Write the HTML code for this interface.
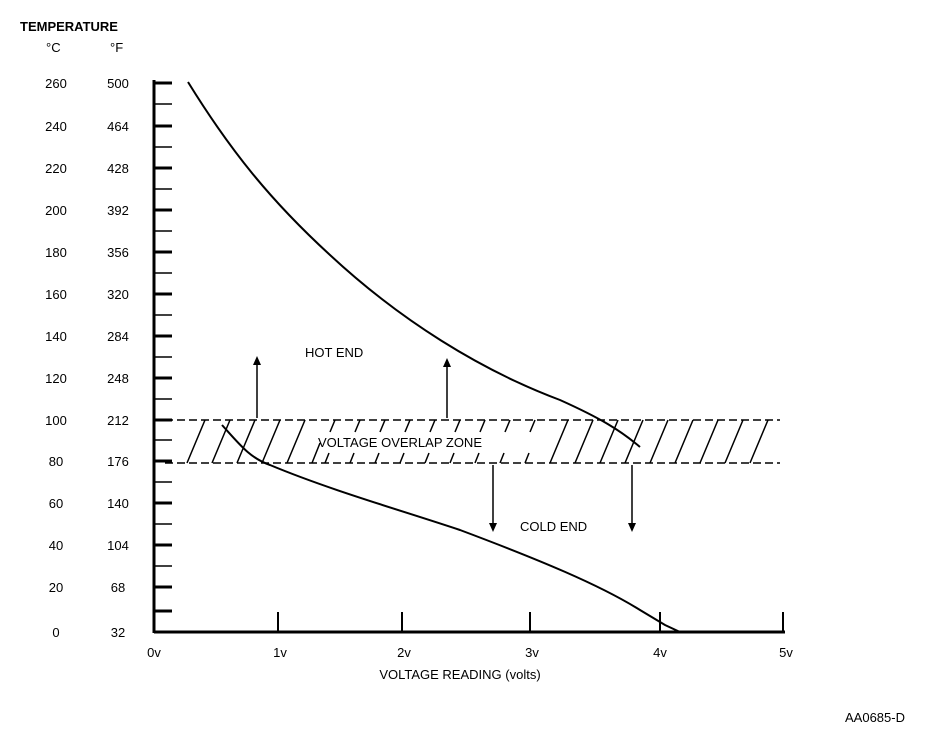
<!DOCTYPE html>
<html><head><style>
body{margin:0;background:#fff;}
svg text{font-family:"Liberation Sans",sans-serif;font-size:13px;fill:#000;}
</style></head><body>
<svg width="944" height="740" viewBox="0 0 944 740" xmlns="http://www.w3.org/2000/svg">
<text x="20" y="31" font-weight="bold" font-size="13">TEMPERATURE</text>
<text x="46" y="52">°C</text><text x="110" y="52">°F</text>
<g text-anchor="middle">
<text x="56" y="88">260</text><text x="118" y="88">500</text>
<text x="56" y="131">240</text><text x="118" y="131">464</text>
<text x="56" y="173">220</text><text x="118" y="173">428</text>
<text x="56" y="215">200</text><text x="118" y="215">392</text>
<text x="56" y="257">180</text><text x="118" y="257">356</text>
<text x="56" y="299">160</text><text x="118" y="299">320</text>
<text x="56" y="341">140</text><text x="118" y="341">284</text>
<text x="56" y="383">120</text><text x="118" y="383">248</text>
<text x="56" y="425">100</text><text x="118" y="425">212</text>
<text x="56" y="466">80</text><text x="118" y="466">176</text>
<text x="56" y="508">60</text><text x="118" y="508">140</text>
<text x="56" y="550">40</text><text x="118" y="550">104</text>
<text x="56" y="592">20</text><text x="118" y="592">68</text>
<text x="56" y="637">0</text><text x="118" y="637">32</text>
<text x="154" y="657">0v</text><text x="280" y="657">1v</text><text x="404" y="657">2v</text>
<text x="532" y="657">3v</text><text x="660" y="657">4v</text><text x="786" y="657">5v</text>
</g>
<text x="460" y="679" text-anchor="middle" font-size="14">VOLTAGE READING (volts)</text>
<text x="845" y="722" font-size="14">AA0685-D</text>
<g stroke="#000" fill="none">
<line x1="154" y1="80" x2="154" y2="633" stroke-width="3"/>
<line x1="154" y1="632" x2="785" y2="632" stroke-width="3"/>
<path d="M154 83H172 M154 126H172 M154 168H172 M154 210H172 M154 252H172 M154 294H172 M154 336H172 M154 378H172 M154 420H172 M154 461H172 M154 503H172 M154 545H172 M154 587H172 M154 611H172" stroke-width="3"/>
<path d="M154 104H172 M154 147H172 M154 189H172 M154 231H172 M154 273H172 M154 315H172 M154 357H172 M154 399H172 M154 440H172 M154 482H172 M154 524H172 M154 566H172" stroke-width="1.5"/>
<path d="M278 612V632 M402 612V632 M530 612V632 M660 612V632 M783 612V632" stroke-width="2"/>
<path d="M188 82 C230 150 270 200 330 255 C400 320 480 370 560 400 C600 418 620 430 640 447" stroke-width="2"/>
<path d="M222 425 C240 445 250 458 270 465 C330 490 400 510 460 530 C540 560 600 585 640 610 L665 625 L680 632" stroke-width="2"/>
<path d="M165 420H780 M165 463H780" stroke-width="1.5" stroke-dasharray="8,4"/>
<path d="M257 418V360 M447 418V362 M493 465V528 M632 465V528" stroke-width="1.5"/>
<path d="M187 463L205 420 M212 463L230 420 M237 463L255 420 M262 463L280 420 M287 463L305 420 M312 463L320 443 M550 463L568 420 M575 463L593 420 M600 463L618 420 M625 463L643 420 M650 463L668 420 M675 463L693 420 M700 463L718 420 M725 463L743 420 M750 463L768 420 M330 432L335 420 M355 432L360 420 M380 432L385 420 M405 432L410 420 M430 432L435 420 M455 432L460 420 M480 432L485 420 M505 432L510 420 M530 432L535 420 M325 463L329 453 M350 463L354 453 M375 463L379 453 M400 463L404 453 M425 463L429 453 M450 463L454 453 M475 463L479 453 M500 463L504 453 M525 463L529 453" stroke-width="1.5"/>
</g>
<path d="M257 356l-4 9h8z M447 358l-4 9h8z M493 532l-4 -9h8z M632 532l-4 -9h8z" fill="#000"/>
<text x="305" y="357">HOT END</text>
<text x="318" y="447">VOLTAGE OVERLAP ZONE</text>
<text x="520" y="531">COLD END</text>
</svg>
</body></html>
